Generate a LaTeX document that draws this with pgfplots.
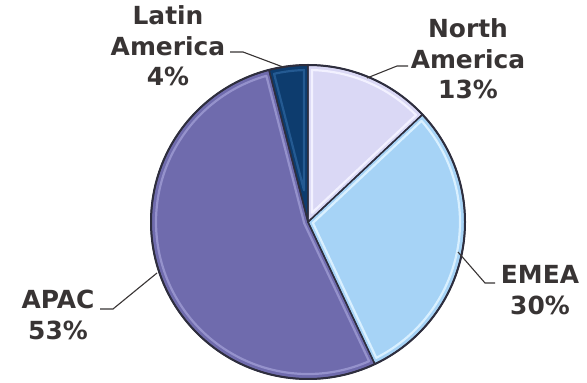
\documentclass[border=0pt]{standalone}
\usepackage{fontspec}
\setmainfont{DejaVu Sans}
\usepackage{pgfplots}
\pgfplotsset{compat=1.18}

\definecolor{naFill}{HTML}{DAD8F5}
\definecolor{naLight}{HTML}{F2F1FF}
\definecolor{emFill}{HTML}{A6D3F6}
\definecolor{emLight}{HTML}{D9F0FF}
\definecolor{apFill}{HTML}{6F6BAD}
\definecolor{apLight}{HTML}{9592CC}
\definecolor{laFill}{HTML}{0D3C6E}
\definecolor{laLight}{HTML}{245A92}
\definecolor{edge}{HTML}{2E2E3E}
\definecolor{txt}{HTML}{383434}

\tikzset{lbl/.style={font=\fontsize{25}{30.5}\selectfont\bfseries, text=txt, align=center}}

\begin{document}
\begin{tikzpicture}
\begin{axis}[
    hide axis,
    scale only axis,
    width=587bp, height=383bp,
    xmin=0, xmax=587, ymin=0, ymax=383,
    clip=false,
]
% pie: share in percent, clockwise from 12 o'clock
\def\cx{308}\def\cy{161}\def\R{157}
\xdef\cur{90}
\foreach \v/\fc/\lc in {13/naFill/naLight, 30/emFill/emLight, 53/apFill/apLight, 4/laFill/laLight}{
    \pgfmathsetmacro\st{\cur}
    \pgfmathsetmacro\en{\cur-3.6*\v}
    \pgfmathsetmacro\mi{(\st+\en)/2}
    \pgfmathsetmacro\dd{4/sin(1.8*\v)}
    \pgfmathsetmacro\ax{\cx+\dd*cos(\mi)}
    \pgfmathsetmacro\ay{\cy+\dd*sin(\mi)}
    \pgfmathsetmacro\ist{\st-1.5}
    \pgfmathsetmacro\ien{\en+1.5}
    \pgfmathsetmacro\px{\cx+(\R-5)*cos(\ist)}
    \pgfmathsetmacro\py{\cy+(\R-5)*sin(\ist)}
    \pgfmathsetmacro\ir{\R-5}
    \edef\temp{\noexpand\fill[\fc] (axis cs:\cx,\cy) -- ++(\st:\R bp)
        arc[start angle=\st, end angle=\en, radius=\R bp] -- cycle;
      \noexpand\draw[\lc, line width=2.2bp, line join=round] (axis cs:\ax,\ay) -- (axis cs:\px,\py)
        arc[start angle=\ist, end angle=\ien, radius=\ir bp] -- cycle;}
    \temp
    \xdef\cur{\en}
}
\xdef\cur{90}
\foreach \v in {13,30,53,4}{
    \pgfmathsetmacro\st{\cur}
    \pgfmathsetmacro\en{\cur-3.6*\v}
    \edef\temp{\noexpand\draw[edge, line width=1.4bp, line join=round] (axis cs:\cx,\cy) -- ++(\st:\R bp)
        arc[start angle=\st, end angle=\en, radius=\R bp] -- cycle;}
    \temp
    \xdef\cur{\en}
}
\draw[edge, line width=2bp] (axis cs:\cx,\cy) circle[radius=\R bp];

% labels and leader lines
\node[lbl] at (axis cs:168,337) {Latin\\America\\4\%};
\draw[txt, line width=1.1bp] (axis cs:230,331) -- (axis cs:243,331) -- (axis cs:283,316);

\node[lbl] at (axis cs:468,324) {North\\America\\13\%};
\draw[txt, line width=1.1bp] (axis cs:367,305) -- (axis cs:397,317) -- (axis cs:408,317);

\node[lbl] at (axis cs:58,68) {APAC\\53\%};
\draw[txt, line width=1.1bp] (axis cs:100,74) -- (axis cs:113,74) -- (axis cs:157,110);

\node[lbl] at (axis cs:540,93) {EMEA\\30\%};
\draw[txt, line width=1.1bp] (axis cs:458,131) -- (axis cs:485,100) -- (axis cs:495,100);
\end{axis}
\pgfresetboundingbox
\path (0,0) rectangle (587bp,383bp);
\end{tikzpicture}
\end{document}
